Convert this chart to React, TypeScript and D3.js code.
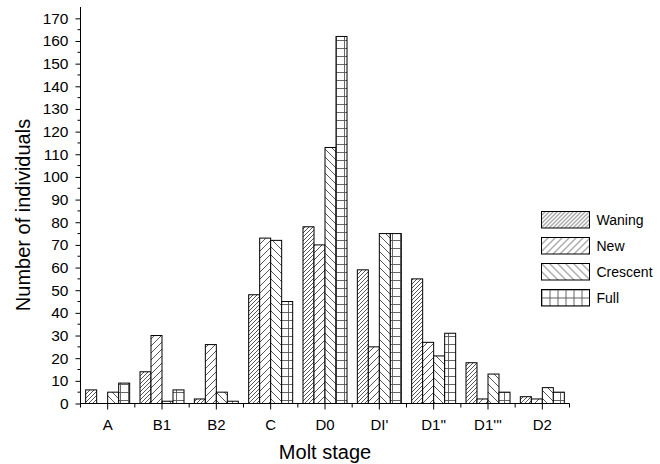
import { useRef, useEffect } from "react";
import * as d3 from "d3";

const stages = ["A", "B1", "B2", "C", "D0", "DI'", "D1''", "D1'''", "D2"];
const seriesNames = ["Waning", "New", "Crescent", "Full"];
const waning = [6, 14, 2, 48, 78, 59, 55, 18, 3];
const newMoon = [0, 30, 26, 73, 70, 25, 27, 2, 2];
const crescent = [5, 1, 5, 72, 113, 75, 21, 13, 7];
const full = [9, 6, 1, 45, 162, 75, 31, 5, 5];
const yTicks = d3.range(0, 171, 10);

const W = 660;
const H = 464;
const FONT = "Arial, 'Liberation Sans', sans-serif";

export default function App() {
  const svgRef = useRef<SVGSVGElement>(null);

  useEffect(() => {
    if (!svgRef.current) return;
    const svg = d3.select(svgRef.current);
    svg.selectAll("*").remove();

    const left = 80.5;
    const right = 569.5;
    const top = 7;
    const bottom = 403.5;

    const values = [waning, newMoon, crescent, full];
    const patIds = ["pWaning", "pNew", "pCrescent", "pFull"];

    // Patterns
    const defs = svg.append("defs");
    const diag = (id: string, size: number, back: boolean, color: string) => {
      const p = defs.append("pattern").attr("id", id).attr("patternUnits", "userSpaceOnUse")
        .attr("width", size).attr("height", size);
      p.append("rect").attr("width", size).attr("height", size).attr("fill", "#fff");
      const d = back
        ? `M0,0 L${size},${size} M${-size},0 L${size},${2 * size} M0,${-size} L${2 * size},${size}`
        : `M0,${size} L${size},0 M${-size},${size} L${size},${-size} M0,${2 * size} L${2 * size},0`;
      p.append("path").attr("d", d).attr("stroke", color).attr("stroke-width", 0.9).attr("fill", "none");
    };
    diag("pWaning", 4, false, "#444");
    diag("pNew", 7, false, "#444");
    diag("pCrescent", 8, true, "#444");
    const pf = defs.append("pattern").attr("id", "pFull").attr("patternUnits", "userSpaceOnUse")
      .attr("width", 8).attr("height", 8);
    pf.append("rect").attr("width", 8).attr("height", 8).attr("fill", "#fff");
    pf.append("path").attr("d", "M0,0.5 H8 M0.5,0 V8").attr("stroke", "#555").attr("stroke-width", 0.9);

    // Scales
    const x = d3.scaleBand<string>().domain(stages).range([left, right]).padding(0);
    const inner = 44;
    const xSub = d3.scaleBand<string>().domain(seriesNames).range([0, inner]).padding(0);
    const y = d3.scaleLinear().domain([0, 175]).range([bottom, top]);

    const g = svg.append("g");

    // Bars
    seriesNames.forEach((s, si) => {
      g.append("g").selectAll("rect")
        .data(stages.map((st, i) => ({ st, v: values[si][i] })))
        .join("rect")
        .attr("x", (d) => (x(d.st) || 0) + (x.bandwidth() - inner) / 2 + (xSub(s) || 0))
        .attr("width", xSub.bandwidth())
        .attr("y", (d) => y(d.v))
        .attr("height", (d) => bottom - y(d.v))
        .attr("fill", `url(#${patIds[si]})`)
        .attr("stroke", (d) => (d.v > 0 ? "#000" : "none"))
        .attr("stroke-width", 1);
    });

    // Y axis
    const ya = svg.append("g").attr("transform", `translate(${left},0)`)
      .call(d3.axisLeft(y).tickValues(yTicks).tickSize(5).tickPadding(7));
    ya.select(".domain").attr("d", `M0,${top}V${bottom + 3}`).attr("stroke", "#000");
    ya.selectAll("line").attr("stroke", "#000");
    ya.selectAll("text").style("font-family", FONT).style("font-size", "15.5px").attr("fill", "#000");
    ya.append("g").selectAll("line").data(d3.range(5, 175, 10)).join("line")
      .attr("x1", 0).attr("x2", -3).attr("y1", (d) => y(d)).attr("y2", (d) => y(d)).attr("stroke", "#000");

    // X axis
    const xa = svg.append("g");
    xa.append("line").attr("x1", left).attr("x2", right).attr("y1", bottom).attr("y2", bottom)
      .attr("stroke", "#000").attr("stroke-width", 1.2);
    xa.selectAll("line.major").data(stages).join("line").attr("class", "major")
      .attr("x1", (d) => (x(d) || 0) + x.bandwidth() / 2).attr("x2", (d) => (x(d) || 0) + x.bandwidth() / 2)
      .attr("y1", bottom).attr("y2", bottom + 6).attr("stroke", "#000");
    xa.selectAll("line.minor").data(d3.range(stages.length + 1)).join("line").attr("class", "minor")
      .attr("x1", (i) => left + i * x.step()).attr("x2", (i) => left + i * x.step())
      .attr("y1", bottom).attr("y2", bottom + 4).attr("stroke", "#000");
    xa.selectAll("text").data(stages).join("text")
      .attr("x", (d) => (x(d) || 0) + x.bandwidth() / 2)
      .attr("y", bottom + 26)
      .attr("text-anchor", "middle")
      .style("font-family", FONT).style("font-size", "15px")
      .text((d) => d);

    // Axis titles
    svg.append("text").attr("x", (left + right) / 2).attr("y", 459).attr("text-anchor", "middle")
      .style("font-family", FONT).style("font-size", "20px").text("Molt stage");
    svg.append("text").attr("transform", `translate(29.5,215) rotate(-90)`)
      .attr("text-anchor", "middle")
      .style("font-family", FONT).style("font-size", "20px").text("Number of individuals");

    // Legend
    const legend = svg.append("g").attr("transform", "translate(541.5,211.5)");
    seriesNames.forEach((s, i) => {
      const lg = legend.append("g").attr("transform", `translate(0,${i * 26})`);
      lg.append("rect").attr("width", 48).attr("height", 16.5)
        .attr("fill", `url(#${patIds[i]})`).attr("stroke", "#000");
      lg.append("text").attr("x", 55).attr("y", 13.5)
        .style("font-family", FONT).style("font-size", "14px").text(s);
    });
  }, []);

  return (
    <svg ref={svgRef} width={W} height={H}
      style={{ position: "absolute", left: 0, top: 0, background: "#fff" }} />
  );
}
